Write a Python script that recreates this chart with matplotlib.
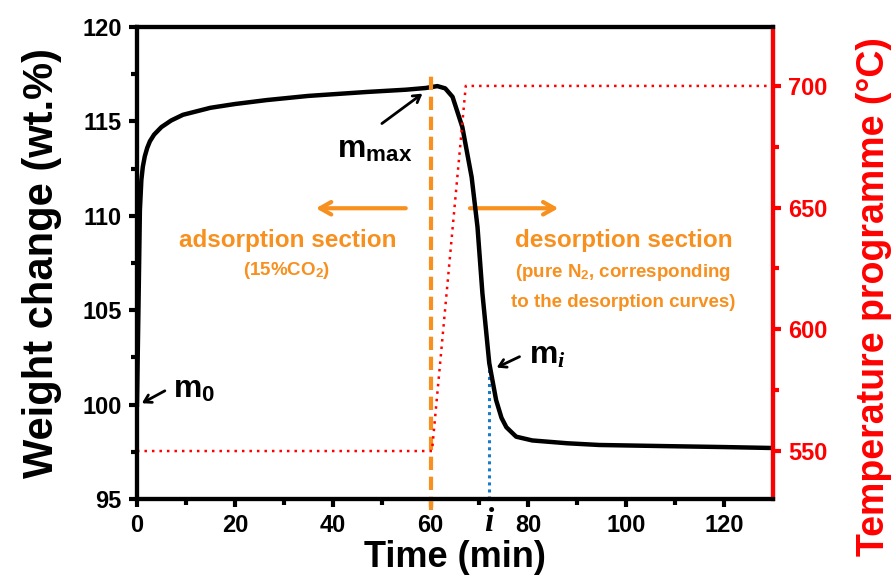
import matplotlib
matplotlib.use("Agg")
import matplotlib.pyplot as plt

plt.rcParams['font.family'] = ['Liberation Sans', 'DejaVu Sans']
plt.rcParams['font.weight'] = 'bold'
plt.rcParams['mathtext.fontset'] = 'custom'
plt.rcParams['mathtext.rm'] = 'Liberation Sans:bold'
plt.rcParams['mathtext.bf'] = 'Liberation Sans:bold'
plt.rcParams['mathtext.it'] = 'Liberation Serif:italic'

# weight curve (min, wt.%)
time_min = [0, 0.3, 0.6, 0.9, 1.2, 1.6, 2.1, 2.65, 3.5, 5, 7, 9.4, 15, 20, 26.5,
            35, 47, 55, 59, 61.4, 63, 64.5, 66.5, 68.4, 69.6, 70.6, 72, 73.4,
            74.5, 75.5, 77.5, 80.8, 88, 94.5, 108, 120, 130]
weight = [100, 105, 110.3, 111.9, 112.6, 113.15, 113.6, 113.95, 114.3, 114.7,
          115.05, 115.35, 115.72, 115.92, 116.13, 116.35, 116.56, 116.68, 116.77,
          116.87, 116.75, 116.3, 114.7, 112.05, 109.4, 105.9, 102.2, 100.24,
          99.3, 98.8, 98.3, 98.1, 97.95, 97.86, 97.8, 97.75, 97.7]

# temperature programme
temp_time = [0, 60.3, 67.2, 130]
temp_vals = [550, 550, 700, 700]

switch_t = 60
t_i = 72
w_i = 102.2

orange = '#f7901e'

fig = plt.figure(figsize=(8.94, 5.86), dpi=100)
ax = fig.add_axes([0.1532, 0.1485, 0.7115, 0.8054])
ax2 = ax.twinx()

ax2.plot(temp_time, temp_vals, color='red', ls=(0, (1, 2.0)), lw=1.8)
ax.plot(time_min, weight, color='black', lw=3.2, zorder=5)
ax.plot([t_i, t_i], [95, w_i], color='#1a7ac8', ls=(0, (1, 1.3)), lw=2.2, zorder=4)
ax.plot([switch_t, switch_t], [94.4, 117.6], color=orange, ls=(0, (3.2, 1.6)),
        lw=3, clip_on=False, zorder=6)

ax.set_xlim(0, 130)
ax.set_ylim(95, 120)
ax2.set_ylim(530.3, 724.2)

ax.set_xticks([0, 20, 40, 60, 80, 100, 120])
ax.set_xticks(range(10, 130, 20), minor=True)
ax.set_yticks([95, 100, 105, 110, 115, 120])
ax.set_yticks([97.5, 102.5, 107.5, 112.5, 117.5], minor=True)
ax2.set_yticks([550, 600, 650, 700])
ax2.set_yticks([575, 625, 675], minor=True)

for a in (ax, ax2):
    for s in a.spines.values():
        s.set_linewidth(3)
ax2.spines['right'].set_color('red')
ax.tick_params(axis='both', which='major', direction='out', length=6, width=3,
               labelsize=17, pad=5)
ax.tick_params(axis='both', which='minor', direction='out', length=4, width=3)
ax.tick_params(axis='x', which='both', top=False)
ax2.tick_params(axis='y', which='major', direction='out', length=6, width=3,
                labelsize=17, colors='red', pad=5)
ax2.tick_params(axis='y', which='minor', direction='out', length=4, width=3,
                colors='red')

ax.set_xlabel('Time (min)', fontsize=26, fontweight='bold', labelpad=2)
ax.set_ylabel('Weight change (wt.%)', fontsize=30, fontweight='bold')
ax.yaxis.set_label_coords(-0.118, 0.5)
ax2.set_ylabel('Temperature programme (°C)', fontsize=27, fontweight='bold',
               color='red')
ax2.yaxis.set_label_coords(1.131, 0.428)

ax.text(t_i, -0.05, r'$i$', fontsize=24, ha='center', va='center',
        transform=ax.get_xaxis_transform())

# arrows
ax.annotate('', xy=(36, 110.4), xytext=(55.5, 110.4),
            arrowprops=dict(arrowstyle='->,head_length=0.8,head_width=0.45',
                            color=orange, lw=3))
ax.annotate('', xy=(86.7, 110.4), xytext=(67.5, 110.4),
            arrowprops=dict(arrowstyle='->,head_length=0.8,head_width=0.45',
                            color=orange, lw=3))

ax.text(30.8, 108.7, 'adsorption section', color=orange, fontsize=17.5,
        ha='center', va='center')
ax.text(30.6, 107.1, r'(15%CO$_2$)', color=orange, fontsize=13.5,
        ha='center', va='center')
ax.text(99.4, 108.7, 'desorption section', color=orange, fontsize=17.5,
        ha='center', va='center')
ax.text(99.4, 107.0, r'(pure N$_2$, corresponding', color=orange, fontsize=13.5,
        ha='center', va='center')
ax.text(99.4, 105.4, 'to the desorption curves)', color=orange, fontsize=13.5,
        ha='center', va='center')

arrow_k = dict(arrowstyle='->,head_length=0.5,head_width=0.3', color='black', lw=2)
ax.annotate('', xy=(58.8, 116.56), xytext=(49.6, 114.8), arrowprops=arrow_k)
ax.text(48.6, 113.5, r'm$_{\mathrm{max}}$', fontsize=23, ha='center', va='center')
ax.annotate('', xy=(0.5, 100.0), xytext=(6.2, 100.8), arrowprops=arrow_k)
ax.text(11.6, 100.8, r'm$_0$', fontsize=23, ha='center', va='center')
ax.annotate('', xy=(73.0, 101.9), xytext=(78.7, 102.6), arrowprops=arrow_k)
ax.text(83.8, 102.6, r'm$_{i}$', fontsize=23, ha='center', va='center')

fig.savefig('out.png', dpi=100)
